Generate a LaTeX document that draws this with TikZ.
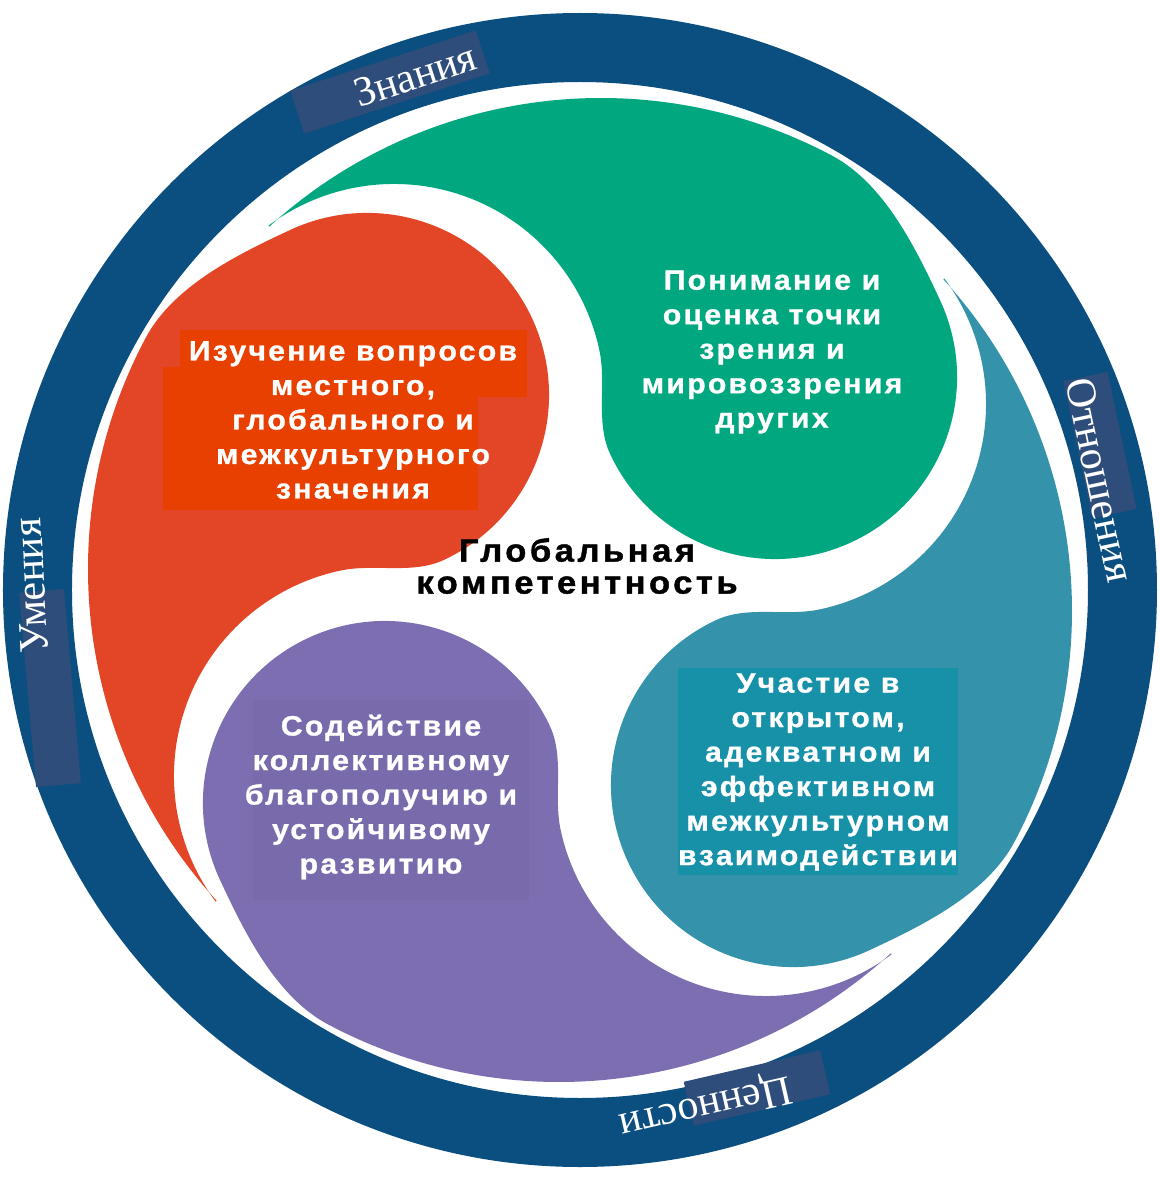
\documentclass[tikz,border=0pt]{standalone}
\usepackage{fontspec}
\setmainfont{Liberation Serif}
\newfontfamily\lobefont[LetterSpace=8, FakeStretch=1.08, BoldFeatures={FakeBold=1}]{Liberation Sans}
\newfontfamily\ctrfont[LetterSpace=11, FakeStretch=1.08, BoldFeatures={FakeBold=1.3}]{Liberation Sans}
\definecolor{ringblue}{RGB}{11,79,128}
\definecolor{ringbox}{RGB}{46,77,122}
\definecolor{cgreen}{RGB}{0,167,127}
\definecolor{corange}{RGB}{227,70,38}
\definecolor{corangebox}{RGB}{232,64,0}
\definecolor{cteal}{RGB}{52,146,171}
\definecolor{ctealbox}{RGB}{22,145,168}
\definecolor{cpurple}{RGB}{124,110,176}
\definecolor{cpurplebox}{RGB}{121,107,171}
\newcommand\swirlpath{(-310.8,363.3) arc[start angle=132.4, end angle=62, radius=492]
 .. controls (305,406.3) and (336.7,339.7) .. (360,289.9)
 arc[start angle=25, end angle=-155, radius=182]
 .. controls (15.3,167.8) and (26.7,205.5) .. (19.4,239.7)
 arc[start angle=12, end angle=126.7, radius=210] -- cycle}
\begin{document}
\begin{tikzpicture}[x=1pt,y=1pt,
  lobetext/.style={text=white, align=center, font=\lobefont\bfseries\fontsize{28}{34.5}\selectfont},
  ctrtext/.style={text=black, align=center, font=\ctrfont\bfseries\fontsize{32}{32}\selectfont},
  ringtext/.style={text=white, font=\fontsize{42}{42}\selectfont},
  ringlabelbox/.style={fill=ringbox, minimum height=45, inner sep=0},
]
\useasboundingbox (-580,-589) rectangle (580,590);
\fill[white] (-580,-589) rectangle (580,590);
% ring
\fill[ringblue, even odd rule] (0,0) circle[radius=577] (0,0) circle[radius=508];
% ring label boxes
\node[ringlabelbox, minimum width=195, rotate=18] (bz) at (-190,508) {};
\node[ringlabelbox, minimum width=140, rotate=-78] (bo) at (520,145) {};
\node[ringlabelbox, minimum width=140, rotate=193] (bc) at (177,-498) {};
\node[ringlabelbox, minimum width=195, rotate=95] (bu) at (-530,-98) {};
% ring labels
\node[ringtext, rotate=18] (lz) at (-165,515) {Знания};
\node[ringtext, rotate=-78] (lo) at (520,110) {Отношения};
\node[ringtext, rotate=193] (lc) at (125,-515) {Ценности};
\node[ringtext, rotate=93] (lu) at (-549,4) {Умения};
% swirls
\fill[cgreen] \swirlpath;
\fill[cteal, rotate=-90] \swirlpath;
\fill[cpurple, rotate=180] \swirlpath;
\fill[corange, rotate=90] \swirlpath;
% text boxes
\fill[corangebox] (-400,260) rectangle (-53,193);
\fill[corangebox] (-417,223) rectangle (-102,80);
\fill[ctealbox] (98,-78) rectangle (378,-285);
\fill[cpurplebox] (-327,-110) rectangle (-51,-310);
% texts
\node[lobetext] (to) at (-227,170) {Изучение вопросов\\местного,\\глобального и\\межкультурного\\значения};
\node[lobetext] (tg) at (192,238) {Понимание и\\оценка точки\\зрения и\\мировоззрения\\других};
\node[lobetext] (tt) at (238,-182) {Участие в\\открытом,\\адекватном и\\эффективном\\межкультурном\\взаимодействии};
\node[lobetext] (tp) at (-199,-207) {Содействие\\коллективному\\благополучию и\\устойчивому\\развитию};
\node[ctrtext] (ctr) at (-3,24) {Глобальная\\компетентность};
\end{tikzpicture}
\end{document}
